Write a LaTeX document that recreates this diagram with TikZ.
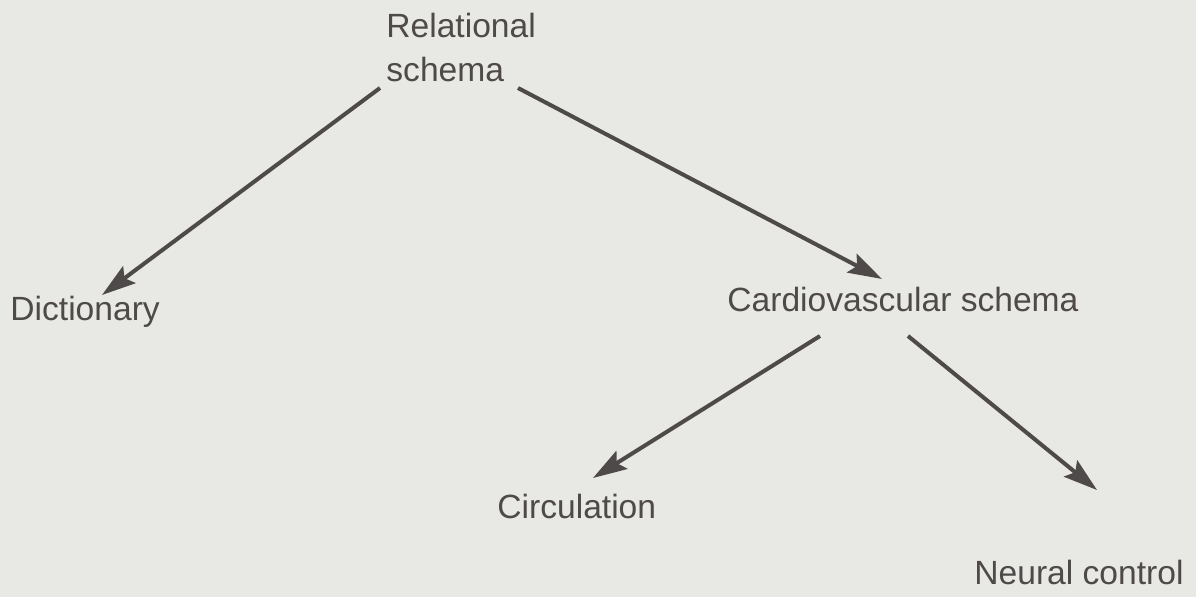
\documentclass[tikz,border=0pt]{standalone}
\usepackage{fontspec}
\setmainfont{Liberation Sans}
\usetikzlibrary{arrows.meta,calc}
\definecolor{paper}{RGB}{232,232,228}
\definecolor{ink}{RGB}{78,74,74}
\begin{document}
\begin{tikzpicture}[x=0.5pt,y=-0.5pt,
  label text/.style={inner sep=0pt, anchor=base west, text=ink,
    font=\fontsize{16.8pt}{22pt}\selectfont},
  link/.style={draw=ink, line width=2pt,
    -{Stealth[length=17pt,width=10.5pt,inset=3pt]}}]
  % page
  \fill[paper] (0,0) rectangle (1196,597);
  \useasboundingbox (0,0) rectangle (1196,597);
  % labels (base anchor of the two-line label is its last line)
  \node[label text, align=left] (rel) at (386,82) {Relational\\schema};
  \node[label text] (dict) at (10,321) {Dictionary};
  \node[label text] (cardio) at (727,312) {Cardiovascular schema};
  \node[label text] (circ) at (497,519) {Circulation};
  \node[label text] (neural) at (974,585) {Neural control};
  % links
  \draw[link] ($(rel.base west)+(-6,6)$) -- ($(dict.base west)+(92,-26)$);
  \draw[link] ($(rel.base west)+(132,6)$) -- ($(cardio.base west)+(155,-33)$);
  \draw[link] ($(cardio.base west)+(93,24)$) -- ($(circ.base west)+(96,-41)$);
  \draw[link] ($(cardio.base west)+(181,24)$) -- ($(neural.base west)+(123,-95)$);
\end{tikzpicture}
\end{document}
